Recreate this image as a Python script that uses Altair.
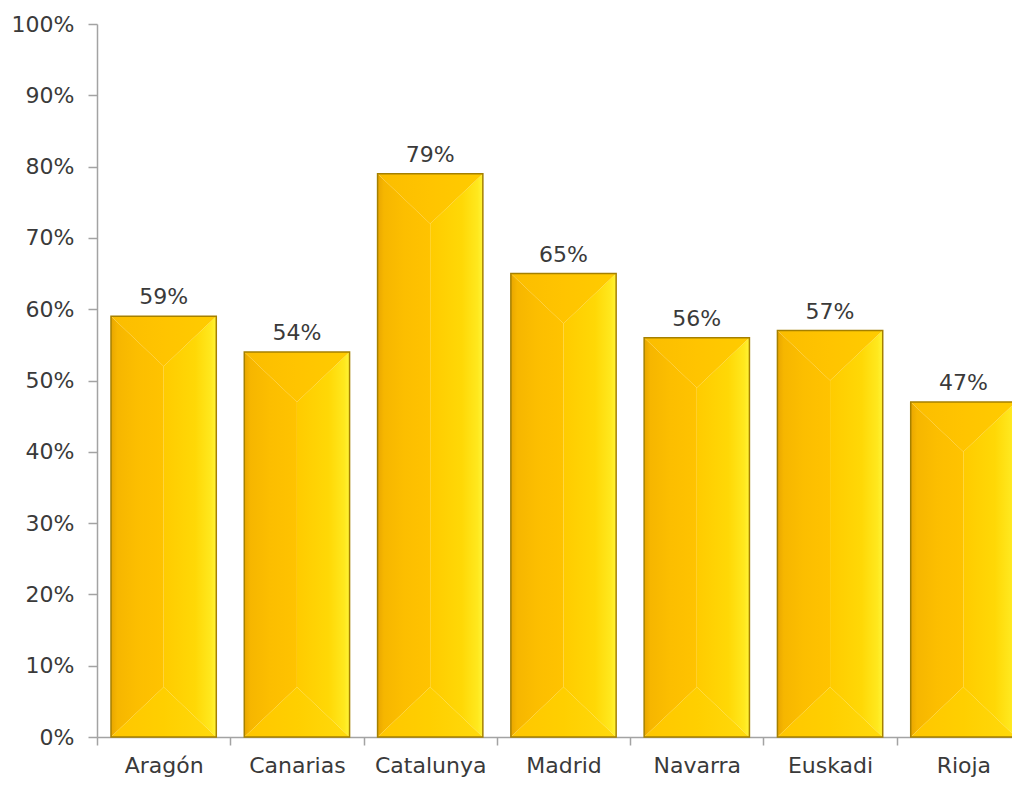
import altair as alt
import pandas as pd

regions = ["Aragón", "Canarias", "Catalunya", "Madrid", "Navarra", "Euskadi", "Rioja"]
values = [59, 54, 79, 65, 56, 57, 47]
labels = ["59%", "54%", "79%", "65%", "56%", "57%", "47%"]
y_ticks = [0, 10, 20, 30, 40, 50, 60, 70, 80, 90, 100]

df = pd.DataFrame({"region": regions, "value": values, "label": labels})

FONT = "DejaVu Sans"
TEXT = "#3a3a3a"
AXIS = "#a3a3a3"
RANGE = [0, 933]
BAR_FRAC = 0.79
EDGE = (1 - BAR_FRAC) / 2
BEVEL = 7.0  # bevel depth in value units

# polygon vertices for the bevelled faces, derived from the data arrays
rows = []
for i, (r, v) in enumerate(zip(regions, values)):
    l, c, rt = i + EDGE, i + 0.5, i + 1 - EDGE
    rows += [
        dict(piece="top", key=r, x=l, y=v, y2=v),
        dict(piece="top", key=r, x=c, y=v, y2=v - BEVEL),
        dict(piece="top", key=r, x=rt, y=v, y2=v),
        dict(piece="left", key=r, x=l, y=v, y2=0),
        dict(piece="left", key=r, x=c, y=v - BEVEL, y2=BEVEL),
        dict(piece="right", key=r, x=c, y=v - BEVEL, y2=BEVEL),
        dict(piece="right", key=r, x=rt, y=v, y2=0),
        dict(piece="bottom", key=r, x=l, y=0, y2=0),
        dict(piece="bottom", key=r, x=c, y=BEVEL, y2=0),
        dict(piece="bottom", key=r, x=rt, y=0, y2=0),
    ]
faces = pd.DataFrame(rows)


def grad(stops):
    return alt.Gradient(
        gradient="linear", x1=0, x2=1, y1=0, y2=0,
        stops=[alt.GradientStop(color=c, offset=o) for o, c in stops],
    )


fills = {
    "left": grad([(0, "#e8a600"), (0.12, "#f6b600"), (0.5, "#fcbe00"), (1, "#ffc300")]),
    "right": grad([(0, "#ffcb00"), (0.6, "#ffd806"), (0.9, "#ffe81e"), (1, "#fff436")]),
    "top": grad([(0, "#fbbd00"), (0.5, "#ffc400"), (1, "#ffcc00")]),
    "bottom": grad([(0, "#ffc600"), (0.5, "#ffcf00"), (1, "#ffda0c")]),
}

yaxis = alt.Axis(
    title=None,
    values=y_ticks,
    labelExpr="datum.value + '%'",
    labelFont=FONT,
    labelFontSize=22,
    labelColor=TEXT,
    labelPadding=14,
    tickSize=9,
    tickColor=AXIS,
    tickWidth=1.5,
    domainColor=AXIS,
    domainWidth=1.5,
    grid=False,
)

yscale = alt.Scale(domain=[0, 100], nice=False)
xq = alt.Scale(domain=[0, len(regions)], range=RANGE, nice=False, zero=False)

face_layers = []
for piece in ["left", "right", "top", "bottom"]:
    face_layers.append(
        alt.Chart(faces)
        .transform_filter(alt.datum.piece == piece)
        .mark_area(fill=fills[piece], interpolate="linear", orient="vertical")
        .encode(
            x=alt.X("x:Q", scale=xq, axis=None),
            y=alt.Y("y:Q", scale=yscale, axis=yaxis),
            y2="y2:Q",
            detail="key:N",
        )
    )

base = alt.Chart(df)
xscale = alt.Scale(domain=regions, range=RANGE, paddingInner=0, paddingOuter=0)

frame = base.mark_bar(
    width=alt.RelativeBandSize(BAR_FRAC),
    fillOpacity=0,
    stroke="#a58000",
    strokeWidth=1.5,
).encode(
    x=alt.X(
        "region:N",
        scale=xscale,
        sort=regions,
        axis=alt.Axis(
            title=None,
            labelAngle=0,
            labelFont=FONT,
            labelFontSize=22,
            labelColor=TEXT,
            labelPadding=10,
            tickBand="extent",
            tickSize=8,
            tickColor=AXIS,
            tickWidth=1.5,
            domainColor=AXIS,
            domainWidth=1.5,
            grid=False,
        ),
    ),
    y=alt.Y("value:Q", scale=yscale, axis=yaxis),
)

text = base.mark_text(
    font=FONT, fontSize=22, color=TEXT, baseline="alphabetic", dy=-12
).encode(
    x=alt.X("region:N", scale=xscale, sort=regions, axis=None),
    y=alt.Y("value:Q", scale=yscale, axis=yaxis),
    text="label:N",
)

chart = (
    alt.layer(*face_layers, frame, text)
    .resolve_scale(x="independent")
    .properties(
        width=915,
        height=713,
        autosize=alt.AutoSizeParams(type="none"),
        padding={"left": 89, "top": 16, "right": 0, "bottom": 42},
        view=alt.ViewBackground(stroke="transparent", strokeWidth=0),
    )
    .configure_view(strokeWidth=0, stroke="transparent")
    .configure_axis(grid=False)
    .configure(background="white")
)

chart.save("out.html", embed_options={"renderer": "svg", "actions": False})
